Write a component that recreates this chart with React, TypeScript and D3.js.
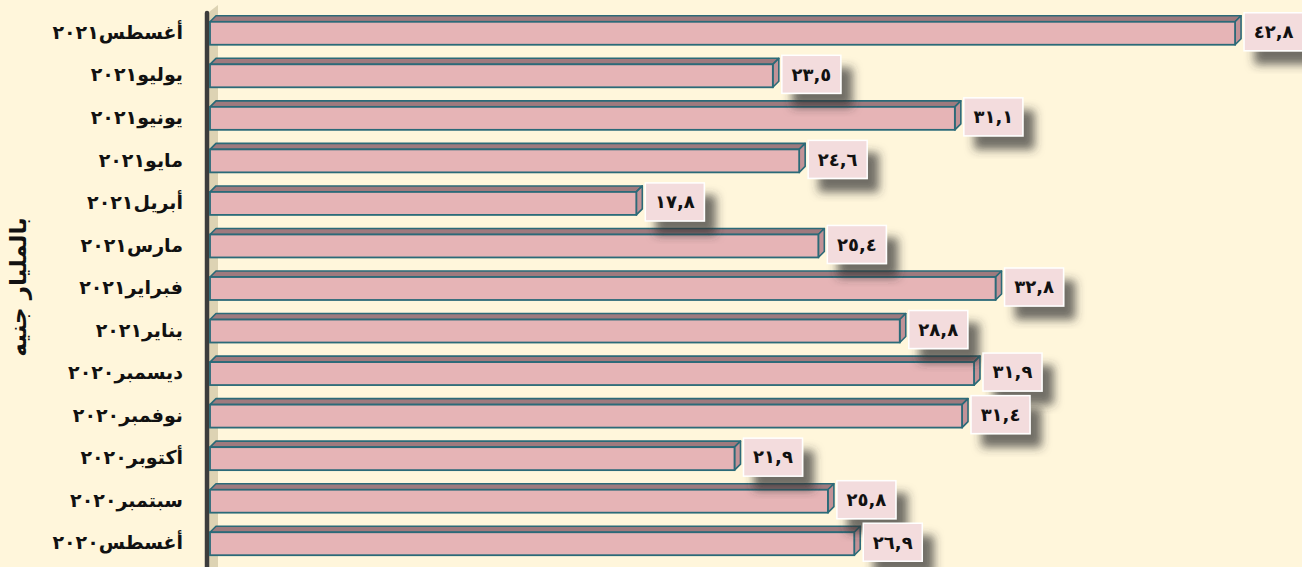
import React from "react";
import * as d3 from "d3";

const categories = [
  "أغسطس٢٠٢١",
  "يوليو٢٠٢١",
  "يونيو٢٠٢١",
  "مايو٢٠٢١",
  "أبريل٢٠٢١",
  "مارس٢٠٢١",
  "فبراير٢٠٢١",
  "يناير٢٠٢١",
  "ديسمبر٢٠٢٠",
  "نوفمبر٢٠٢٠",
  "أكتوبر٢٠٢٠",
  "سبتمبر٢٠٢٠",
  "أغسطس٢٠٢٠",
];
const values = [42.8, 23.5, 31.1, 24.6, 17.8, 25.4, 32.8, 28.8, 31.9, 31.4, 21.9, 25.8, 26.9];
const axisTitle = "بالمليار جنيه";

const W = 1302;
const H = 567;

const arabicDigits = "٠١٢٣٤٥٦٧٨٩";
function toArabic(v: number): string {
  return v
    .toFixed(1)
    .replace(".", ",")
    .replace(/[0-9]/g, (d) => arabicDigits[+d]);
}

export default function App() {
  const x = d3.scaleLinear().domain([0, 45]).range([210, 210 + 45 * 23.95]);
  const y = d3
    .scaleBand<string>()
    .domain(categories)
    .range([12, 565])
    .paddingInner(0.46)
    .paddingOuter(0.23);
  const bw = y.bandwidth();
  const dx = 6;
  const dy = 6;
  const font = "'DejaVu Sans', sans-serif";

  return (
    <svg
      width={W}
      height={H}
      style={{ position: "fixed", left: 0, top: 0, display: "block" }}
      xmlns="http://www.w3.org/2000/svg"
    >
      <defs>
        <filter id="sh" x="-40%" y="-40%" width="200%" height="200%">
          <feDropShadow dx="11" dy="13" stdDeviation="5" floodColor="#333" floodOpacity="0.7" />
        </filter>
      </defs>
      <rect x={0} y={0} width={W} height={H} fill="#FFF6DB" />
      {/* wall */}
      <polygon points={`209,12 218,5 218,${H} 209,${H}`} fill="#DDD3B3" />
      {/* axis line */}
      <line x1={207} y1={13} x2={207} y2={H + 5} stroke="#3C3C3C" strokeWidth={4.5} strokeLinecap="round" />
      {/* bars */}
      {categories.map((c, i) => {
        const y0 = y(c)!;
        const x0 = x(0);
        const x1 = x(values[i]);
        return (
          <g key={c}>
            <polygon
              points={`${x0},${y0} ${x0 + dx},${y0 - dy} ${x1 + dx},${y0 - dy} ${x1},${y0}`}
              fill="#9E7A7E"
              stroke="#2B6A78"
              strokeWidth={1.6}
              strokeLinejoin="round"
            />
            <polygon
              points={`${x1},${y0} ${x1 + dx},${y0 - dy} ${x1 + dx},${y0 + bw - dy} ${x1},${y0 + bw}`}
              fill="#C29297"
              stroke="#2B6A78"
              strokeWidth={1.6}
              strokeLinejoin="round"
            />
            <rect
              x={x0}
              y={y0}
              width={x1 - x0}
              height={bw}
              fill="#E6B4B6"
              stroke="#2B6A78"
              strokeWidth={1.8}
            />
          </g>
        );
      })}
      {/* value labels */}
      {categories.map((c, i) => {
        const cy = y(c)! + bw / 2 - 1.5;
        const bx = x(values[i]) + 9;
        return (
          <g key={"l" + c}>
            <rect
              x={bx}
              y={cy - 19}
              width={59}
              height={38}
              fill="#F3DCDD"
              stroke="#FFFFFF"
              strokeWidth={1.5}
              filter="url(#sh)"
            />
            <text
              x={bx + 29.5}
              y={cy}
              dy="0.35em"
              textAnchor="middle"
              fontFamily={font}
              fontWeight="bold"
              fontSize={18}
              letterSpacing={1}
              fill="#111"
            >
              {toArabic(values[i])}
            </text>
          </g>
        );
      })}
      {/* category labels */}
      {categories.map((c) => (
        <text
          key={"c" + c}
          x={183}
          y={y(c)! + bw / 2 - 1}
          dy="0.35em"
          textAnchor="end"
          fontFamily={font}
          fontWeight="bold"
          fontSize={19}
          fill="#111"
        >
          {c}
        </text>
      ))}
      <text
        transform={`translate(18,287) rotate(-90)`}
        textAnchor="middle"
        dy="0.35em"
        fontFamily={font}
        fontWeight="bold"
        fontSize={23}
        fill="#111"
      >
        {axisTitle}
      </text>
    </svg>
  );
}
